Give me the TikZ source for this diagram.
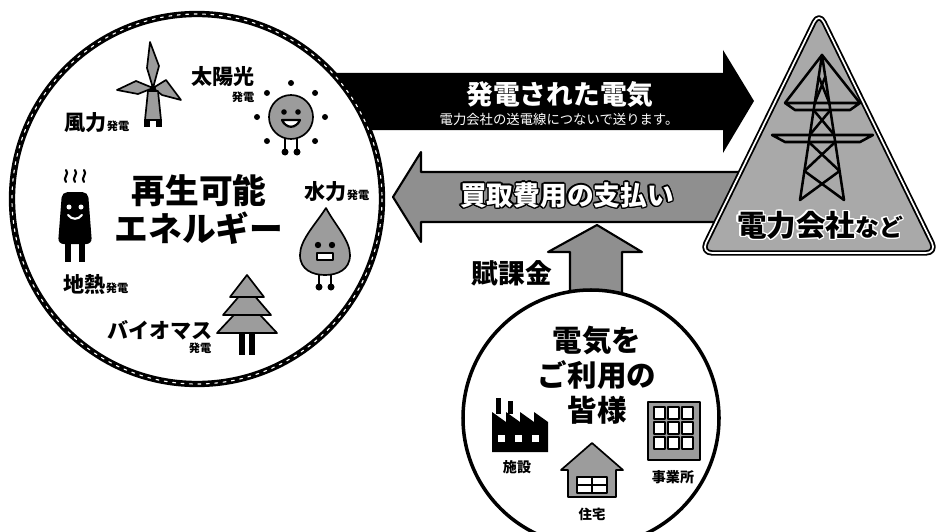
\documentclass[tikz,border=0pt]{standalone}
\usepackage{fontspec}
\setmainfont{Noto Sans CJK JP}
\usepackage{xcolor}
\usepackage{contour}
\usetikzlibrary{calc}
\definecolor{arrowgray}{HTML}{8F8F8F}
\definecolor{towergray}{HTML}{A9A9A9}
\definecolor{figgray}{HTML}{9C9C9C}
\contourlength{1pt}
\newcommand{\fsz}[1]{\fontsize{#1}{#1}\selectfont}

\begin{document}
\begin{tikzpicture}[
		x=0.025cm, y=-0.025cm,
		line width=1.2pt,
		line cap=round,
		line join=round,
		critter/.style={draw=black, line width=1.2pt, fill=figgray},
		iconlabel/.style={font=\bfseries\fsz{15}, inner sep=0pt},
		subnote/.style={font=\bfseries\fsz{8}, inner sep=0pt}
		]
		\fill[white] (0,0) rectangle (940,532);
		\useasboundingbox (0,0) rectangle (940,532);
		
		% electricity sent out (black arrow)
		\fill[black] (330,73) -- (723,73) -- (723,50) -- (754,101) -- (723,153) -- (723,130) -- (330,130) -- cycle;
		\node[white, font=\bfseries\fsz{19}] (sold) at (560,95) {発電された電気};
		\node[white, font=\fsz{9.5}] (grid) at (559,119) {電力会社の送電線につないで送ります。};
		
		% payment back (grey arrow)
		\draw[line width=1.5pt, fill=arrowgray] (770,172) -- (421,172) -- (421,152) -- (393,197) -- (421,242) -- (421,222) -- (770,222) -- cycle;
		\node[white, font=\bfseries\fsz{19}] (pay) at (567,196) {\contour{black}{買取費用の支払い}};
		
		% levy (up arrow)
		\draw[line width=1.5pt, fill=arrowgray] (570,305) -- (570,252) -- (548,252) -- (597,225) -- (642,252) -- (622,252) -- (622,305) -- cycle;
		\node[font=\bfseries\fsz{19}, inner sep=0pt] (levy) at (512,273) {賦課金};
		
		% renewable circle
		\fill[white] (197,199) circle (185);
		\draw[line width=4.5pt] (197,199) circle (185);
		\draw[white, line width=0.8pt, dash pattern=on 2pt off 4pt] (197,199) circle (185);
		\node[font=\bfseries\fontsize{24}{27}\selectfont, align=center, inner sep=0pt] (renew) at (199,209) {再生可能\\エネルギー};
		
		% power company triangle
		\draw[line width=1.3pt, double=white, double distance=1.2pt, fill=towergray, rounded corners=8pt] (819,12) -- (937,253) -- (701,253) -- cycle;
		\begin{scope}[line width=1.8pt]
			\coordinate (T) at (822,55);
			\coordinate (L) at (800,200);
			\coordinate (R) at (844,200);
			\draw (L) -- (T) -- (R);
			% cross arms
			\draw (785,103) -- (860,103) -- (850,110) -- (795,110) -- cycle;
			\draw (772,135) -- (873,135) -- (860,142) -- (785,142) -- cycle;
			\draw (785,103) -- (T) -- (860,103);
			% bracing
			\foreach \a/\b in {0.15/0.33, 0.38/0.55, 0.6/0.8, 0.8/1} {
				\draw ($(T)!\a!(L)$) -- ($(T)!\b!(R)$);
				\draw ($(T)!\a!(R)$) -- ($(T)!\b!(L)$);
			}
		\end{scope}
		\node[font=\bfseries\fsz{21}] (firm) at (820,226) {\contour{white}{電力会社{\fsz{17}など}}};
		
		% users circle
		\draw[line width=2.5pt, fill=white] (591,418) circle (128);
		\node[font=\bfseries\fontsize{21}{25}\selectfont, align=center, inner sep=0pt] (users) at (597,375) {電気を\\ご利用の\\皆様};
		
		% factory
		\begin{scope}[shift={(492,398)}]
			\fill (4,0) rectangle (9,16);
			\fill (16,3) rectangle (21,16);
			\fill (0,54) -- (0,14) -- (14,24) -- (14,14) -- (28,24) -- (28,14) -- (42,24) -- (42,14) -- (56,24) -- (56,54) -- cycle;
			\foreach \i in {0,1,2} {
				\fill[white] (6+\i*17,37) rectangle ++(7,7);
			}
		\end{scope}
		\node[subnote, font=\bfseries\fsz{10}] (plant) at (517,467) {施設};
		
		% house
		\begin{scope}[shift={(592,443)}]
			\draw[critter] (0,0) -- (31,27) -- (24,27) -- (24,54) -- (-24,54) -- (-24,27) -- (-31,27) -- cycle;
			\draw[line width=1.4pt, fill=white] (-15,34) rectangle (15,50);
			\draw[line width=1.4pt] (0,34) -- (0,50) (-15,42) -- (15,42);
		\end{scope}
		\node[subnote, font=\bfseries\fsz{9.5}] (home) at (592,514) {住宅};
		
		% office
		\begin{scope}[shift={(648,402)}]
			\draw[critter] (0,0) rectangle (52,58);
			\foreach \r in {0,...,2} {
				\foreach \c in {0,...,2} {
					\draw[line width=1pt, fill=white] ($(6,5)+(\c*14,\r*15)$) rectangle ++(11,12);
				}
			}
		\end{scope}
		\node[subnote, font=\bfseries\fsz{10}] (office) at (673,477) {事業所};
		
		% wind
		\begin{scope}[shift={(153,88)}]
			\draw[critter] (0,0) -- (-6,-20) -- (-3,-46) -- (6,-22) -- cycle;
			\draw[critter] (0,0) -- (-17,-7) -- (-36,2) -- (-15,6) -- cycle;
			\draw[critter] (0,0) -- (13,-8) -- (28,12) -- (9,7) -- cycle;
			\draw[critter] (-5,3) -- (5,3) -- (8,32) -- (-8,32) -- cycle;
			\fill (0,0) circle (3);
			\fill (-9,31) rectangle (-3,39);
			\fill (3,31) rectangle (9,39);
		\end{scope}
		\node[iconlabel] (wind) at (97,123) {風力{\fsz{8}発電}};
		
		% sun
		\begin{scope}[shift={(291,117)}]
			\foreach \k in {0,45,135,180,225,270,315} {
				\fill (\k:34) circle (3);
			}
			\draw[line width=1.8pt] (-6,20) -- (-6,33) (6,20) -- (6,33);
			\fill (-6,35) circle (3.5) (6,35) circle (3.5);
			\draw[critter] (0,0) circle (22);
			\fill (-7,-5) circle (2.8) (7,-5) circle (2.8);
			\draw[line width=1.6pt, fill=white] (-9,3) .. controls (-5,12) and (5,12) .. (9,3) -- cycle;
		\end{scope}
		\node[iconlabel] (sun) at (223,77) {太陽光};
		\node[subnote] (sunsub) at (243,97) {発電};
		
		% geothermal
		\begin{scope}[shift={(75,222)}]
			\foreach \s in {-9,0,9} {
				\draw[line width=1.5pt] (\s,-40) .. controls (\s-4,-44) and (\s+4,-48) .. (\s,-52);
			}
			\fill[rounded corners=4pt] (-13,-30) -- (13,-30) -- (17,22) -- (-17,22) -- cycle;
			\fill[white] (-6,-15) circle (2.5) (6,-15) circle (2.5);
			\draw[white, line width=1.5pt] (-7,-7) .. controls (-3,-2) and (3,-2) .. (7,-7);
			\fill (-10,21) rectangle (-4,40);
			\fill (4,21) rectangle (10,40);
		\end{scope}
		\node[iconlabel] (geo) at (96,285) {地熱{\fsz{8}発電}};
		
		% hydro
		\begin{scope}[shift={(325,245)}]
			\draw[line width=1.8pt] (-6,28) -- (-6,40) (6,28) -- (6,40);
			\fill (-6,42) circle (3.5) (6,42) circle (3.5);
			\draw[critter] (1,-37) .. controls (-10,-20) and (-25,-5) .. (-25,10) .. controls (-25,25) and (-12,30) .. (0,30) .. controls (12,30) and (25,25) .. (25,10) .. controls (25,-5) and (10,-20) .. (1,-37);
			\fill (-7,0) circle (3.2) (7,0) circle (3.2);
			\draw[line width=1.5pt, fill=white] (-8,8) rectangle (8,15);
		\end{scope}
		\node[iconlabel] (hydro) at (337,192) {水力{\fsz{8}発電}};
		
		% biomass
		\begin{scope}[shift={(247,275)}]
			\fill (-8,56) rectangle (-2,80);
			\fill (2,56) rectangle (8,80);
			\draw[critter] (0,26) -- (30,58) -- (-30,58) -- cycle;
			\draw[critter] (0,12) -- (24,40) -- (-24,40) -- cycle;
			\draw[critter] (0,0) -- (17,22) -- (-17,22) -- cycle;
		\end{scope}
		\node[iconlabel] (bio) at (160,330) {バイオマス};
		\node[subnote] (biosub) at (200,348) {発電};
		
	\end{tikzpicture}
\end{document}
